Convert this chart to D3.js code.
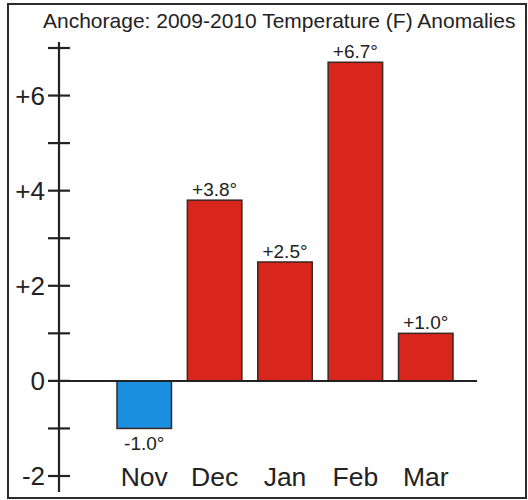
<!DOCTYPE html>
<html>
<head>
<meta charset="utf-8">
<script src="https://cdn.jsdelivr.net/npm/d3@7"></script>
<style>
  body { margin: 0; background: #fff; }
  svg { display: block; font-family: "Liberation Sans", Arial, sans-serif; }
</style>
</head>
<body>
<svg id="chart"></svg>
<script>
// data
const months = ["Nov", "Dec", "Jan", "Feb", "Mar"];
const anomalies = [-1.0, 3.8, 2.5, 6.7, 1.0];
const valueLabels = ["-1.0°", "+3.8°", "+2.5°", "+6.7°", "+1.0°"];
const tickValues = [-2, -1, 0, 1, 2, 3, 4, 5, 6, 7];
const tickLabels = { "-2": "-2", "0": "0", "2": "+2", "4": "+4", "6": "+6" };
const title = "Anchorage: 2009-2010 Temperature (F) Anomalies";

const width = 528, height = 500;

const svg = d3.select("#chart")
    .attr("width", width)
    .attr("height", height);

// frame round the picture
svg.append("rect")
    .attr("x", 8)
    .attr("y", 4)
    .attr("width", 518)
    .attr("height", 494)
    .attr("fill", "#fff")
    .attr("stroke", "#2b2b2b")
    .attr("stroke-width", 2);

svg.append("text")
    .attr("x", 43)
    .attr("y", 28)
    .attr("font-size", 21)
    .attr("fill", "#222")
    .text(title);

const axisX = 59;

const yScale = d3.scaleLinear()
    .domain([-2, 7])
    .range([476, 48]);

const xScale = d3.scaleBand()
    .domain(months)
    .range([117, 453])
    .paddingInner(0.226)
    .paddingOuter(0);

const data = months.map((m, i) => ({ month: m, value: anomalies[i], label: valueLabels[i] }));

// bars
svg.selectAll("rect.bar")
    .data(data)
    .join("rect")
    .attr("class", "bar")
    .attr("x", d => xScale(d.month))
    .attr("width", xScale.bandwidth())
    .attr("y", d => yScale(Math.max(0, d.value)))
    .attr("height", d => Math.abs(yScale(d.value) - yScale(0)))
    .attr("fill", d => d.value < 0 ? "#1a8fe0" : "#d9261c")
    .attr("stroke", "#3a2622")
    .attr("stroke-width", 1.5);

// zero line
svg.append("line")
    .attr("x1", axisX)
    .attr("x2", 477)
    .attr("y1", yScale(0))
    .attr("y2", yScale(0))
    .attr("stroke", "#222")
    .attr("stroke-width", 2);

// vertical axis with crossing ticks
svg.append("line")
    .attr("x1", axisX)
    .attr("x2", axisX)
    .attr("y1", 42)
    .attr("y2", 492)
    .attr("stroke", "#222")
    .attr("stroke-width", 2.2);

svg.selectAll("line.tick")
    .data(tickValues)
    .join("line")
    .attr("class", "tick")
    .attr("x1", 48)
    .attr("x2", 70)
    .attr("y1", d => yScale(d))
    .attr("y2", d => yScale(d))
    .attr("stroke", "#222")
    .attr("stroke-width", 2.2);

svg.selectAll("text.tick-label")
    .data(tickValues.filter(v => tickLabels[v] !== undefined))
    .join("text")
    .attr("class", "tick-label")
    .attr("x", 45)
    .attr("y", d => yScale(d))
    .attr("dy", "0.36em")
    .attr("text-anchor", "end")
    .attr("font-size", 26)
    .attr("fill", "#222")
    .text(d => tickLabels[d]);

// value labels
svg.selectAll("text.value")
    .data(data)
    .join("text")
    .attr("class", "value")
    .attr("x", d => xScale(d.month) + xScale.bandwidth() / 2)
    .attr("y", d => d.value < 0 ? yScale(d.value) + 22 : yScale(d.value) - 4)
    .attr("text-anchor", "middle")
    .attr("font-size", 19)
    .attr("fill", "#222")
    .text(d => d.label);

// month labels
svg.selectAll("text.month")
    .data(months)
    .join("text")
    .attr("class", "month")
    .attr("x", d => xScale(d) + xScale.bandwidth() / 2)
    .attr("y", 486)
    .attr("text-anchor", "middle")
    .attr("font-size", 26.5)
    .attr("fill", "#222")
    .text(d => d);
</script>
</body>
</html>
